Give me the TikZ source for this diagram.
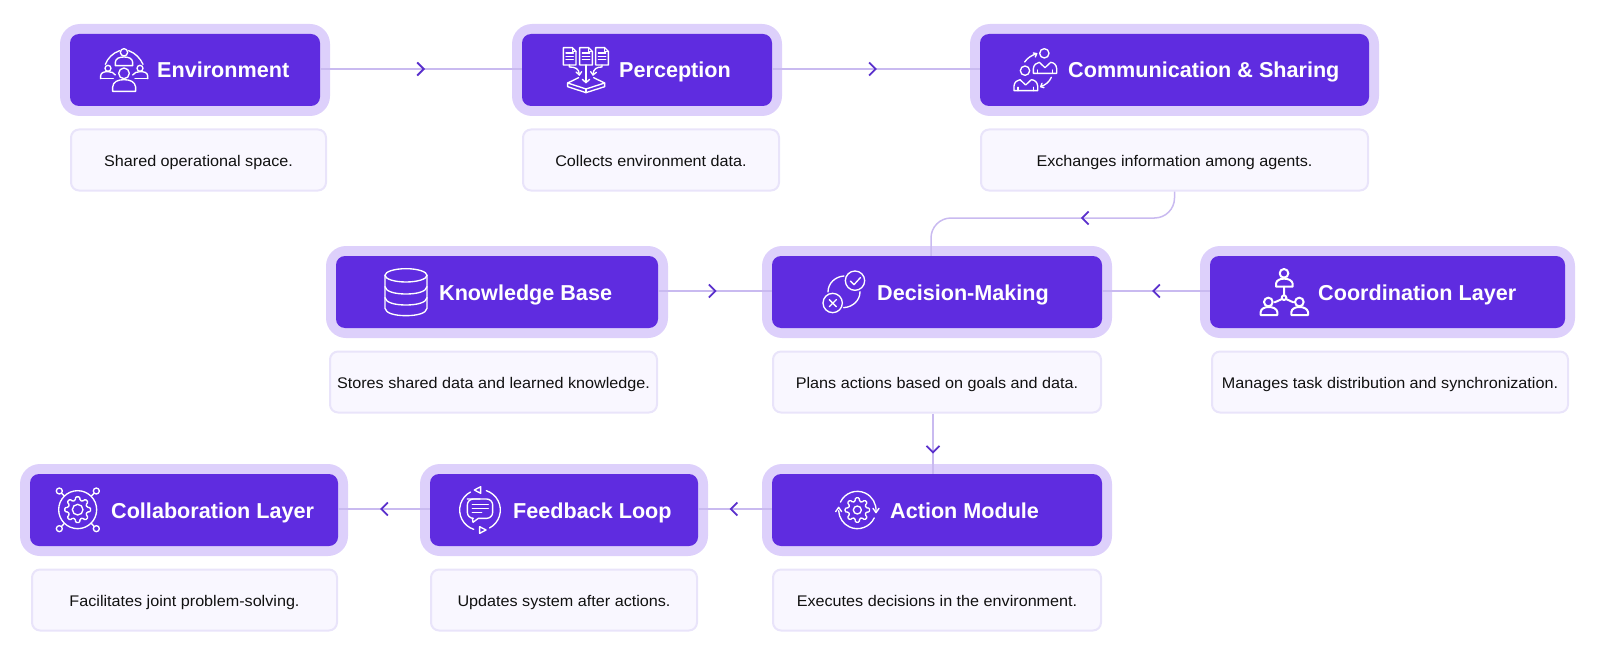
\documentclass[tikz,border=0pt]{standalone}
\usepackage{fontspec}
\setmainfont[FakeStretch=1.05]{Liberation Sans}
\newfontfamily\titlefont{Liberation Sans}
\usetikzlibrary{arrows.meta,decorations.markings}
\definecolor{ringc}{HTML}{DDD0FB}
\definecolor{innerc}{HTML}{5F2CE0}
\definecolor{descf}{HTML}{F9F7FF}
\definecolor{descb}{HTML}{E9E4FA}
\definecolor{linec}{HTML}{C9BAF0}
\definecolor{chevc}{HTML}{5A30CC}
\definecolor{inkc}{HTML}{111111}
\tikzset{
  ringbox/.style={fill=ringc,rounded corners=20pt,inner sep=0pt,minimum height=92pt},
  innerbox/.style={fill=innerc,rounded corners=9pt,inner sep=0pt,minimum height=72pt},
  descbox/.style={fill=descf,draw=descb,line width=2pt,rounded corners=8pt,inner sep=0pt,minimum height=61pt,
    text=inkc,text height=13pt,text depth=0pt,font=\fontsize{15.4}{18}\selectfont},
  titletext/.style={anchor=base west,text=white,inner sep=0pt,font=\titlefont\fontsize{21.6}{26}\selectfont\bfseries},
  flowline/.style={draw=linec,line width=1.5pt,postaction={decorate},
    decoration={markings,mark=at position #1 with {\arrow[xshift=4pt]{Straight Barb[color=chevc,line width=1.8pt,length=6.5pt,width=13pt]}}}},
  iconline/.style={draw=white,line width=1.35pt,line cap=round,line join=round,fill=none},
  iconthick/.style={draw=white,line width=2pt,line cap=round,line join=round,fill=none},
}
\newcommand{\stagebox}[4]{%
  \node[ringbox,minimum width={(#3-#2+20)*1pt}] (#1ring) at ({(#2+#3)/2},#4) {};
  \node[innerbox,minimum width={(#3-#2)*1pt}] (#1) at ({(#2+#3)/2},#4) {};}
\newcommand{\descnode}[5]{%
  \node[descbox,minimum width={(#3-#2-2)*1pt}] (#1) at ({(#2+#3)/2},#4) {#5};}
\newcommand{\geararc}[5]{({#1+#3*cos(#4)},{#2+#3*sin(#4)}) arc[start angle=#4,end angle=#5,radius=#3]}
\newcommand{\gearpath}[5]{% cx cy router rinner start
  \draw[iconline,rounded corners=1pt] ({#1+#4*cos(#5-14)},{#2+#4*sin(#5-14)})
    \foreach \ga in {0,45,...,315}{
      -- ({#1+#4*cos(\ga+#5-14)},{#2+#4*sin(\ga+#5-14)})
      -- ({#1+#3*cos(\ga+#5-9)},{#2+#3*sin(\ga+#5-9)})
      -- ({#1+#3*cos(\ga+#5+9)},{#2+#3*sin(\ga+#5+9)})
      -- ({#1+#4*cos(\ga+#5+14)},{#2+#4*sin(\ga+#5+14)})
    } -- cycle;}
\begin{document}
\begin{tikzpicture}[x=1pt,y=-1pt]
\useasboundingbox (0,0) rectangle (1600,666);
% stages
\stagebox{env}{70}{320}{70}
\stagebox{per}{522}{772}{70}
\stagebox{com}{980}{1369}{70}
\stagebox{kno}{336}{658}{292}
\stagebox{dec}{772}{1102}{292}
\stagebox{coo}{1210}{1565}{292}
\stagebox{col}{30}{338}{510}
\stagebox{fee}{430}{698}{510}
\stagebox{act}{772}{1102}{510}
% descriptions
\descnode{envd}{70}{327}{160}{Shared operational space.}
\descnode{perd}{522}{780}{160}{Collects environment data.}
\descnode{comd}{980}{1369}{160}{Exchanges information among agents.}
\descnode{knod}{329}{658}{382}{Stores shared data and learned knowledge.}
\descnode{decd}{772}{1102}{382}{Plans actions based on goals and data.}
\descnode{cood}{1211}{1569}{382}{Manages task distribution and synchronization.}
\descnode{cold}{31}{338}{600}{Facilitates joint problem-solving.}
\descnode{feed}{430}{698}{600}{Updates system after actions.}
\descnode{actd}{772}{1102}{600}{Executes decisions in the environment.}
% titles
\node[titletext] (envt) at (157,78) {Environment};
\node[titletext] (pert) at (619,78) {Perception};
\node[titletext] (comt) at (1068,78) {Communication \& Sharing};
\node[titletext] (knot) at (439,300) {Knowledge Base};
\node[titletext] (dect) at (877,300) {Decision-Making};
\node[titletext] (coot) at (1318,300) {Coordination Layer};
\node[titletext] (colt) at (111,518) {Collaboration Layer};
\node[titletext] (feet) at (513,518) {Feedback Loop};
\node[titletext] (actt) at (890,518) {Action Module};
% connectors
\coordinate (bend) at (931,218);
\path[flowline=0.5] ([yshift=1pt]env.east) -- ([yshift=1pt]per.west);
\path[flowline=0.485] ([yshift=1pt]per.east) -- ([yshift=1pt]com.west);
\path[flowline=0.48] ([yshift=1pt]kno.east) -- ([yshift=1pt]dec.west);
\path[flowline=0.5] ([yshift=1pt]coo.west) -- ([yshift=1pt]dec.east);
\path[flowline=0.37,rounded corners=20pt] (comd.south) |- (bend) -- ([xshift=-6pt]dec.north);
\path[flowline=0.6] ([xshift=-4pt]decd.south) -- ([xshift=-4pt]act.north);
\path[flowline=0.52] ([yshift=1pt]act.west) -- ([yshift=1pt]fee.east);
\path[flowline=0.5] ([yshift=1pt]fee.west) -- ([yshift=1pt]col.east);
% icon: environment
\begin{scope}[shift={(50,15)},x=0.33333pt,y=-0.33333pt]
 \draw[iconline] (222,112) circle (11);
 \draw[iconline] (196,152) -- (196,142) .. controls (197,130) and (208,126) .. (222,126) .. controls (236,126) and (247,130) .. (248,142) -- (248,152) -- cycle;
 \draw[iconline] (174,160) circle (9);
 \draw[iconline] (152,191) -- (152,182) .. controls (153,172) and (163,170) .. (174,170) .. controls (183,170) and (193,173) .. (196,180);
 \draw[iconline] (152,191) -- (190,191);
 \draw[iconline] (270,160) circle (9);
 \draw[iconline] (293,191) -- (293,182) .. controls (292,172) and (282,170) .. (270,170) .. controls (261,170) and (252,173) .. (248,180);
 \draw[iconline] (293,191) -- (255,191);
 \draw[iconline] (222,175) circle (16);
 \draw[iconline] (188,229) -- (188,216) .. controls (189,200) and (204,194) .. (222,194) .. controls (240,194) and (255,200) .. (257,216) -- (257,229) -- cycle;
 \draw[iconline] (166,148) .. controls (173,130) and (188,114) .. (209,107);
 \draw[iconline] (236,107) .. controls (256,114) and (271,130) .. (279,148);
\end{scope}
% icon: perception
\begin{scope}[shift={(500,15)},x=0.33333pt,y=-0.33333pt]
 \foreach \dx in {190,239,287}{
  \draw[iconline] (\dx,98) -- (\dx+27,98) -- (\dx+38,109) -- (\dx+38,150) -- (\dx,150) -- cycle;
  \draw[iconline] (\dx+27,98) -- (\dx+27,109) -- (\dx+38,109);
  \draw[iconline] (\dx+8,114) -- (\dx+30,114) (\dx+8,124) -- (\dx+30,124) (\dx+8,134) -- (\dx+30,134);
 }
 \draw[iconline] (258,150) -- (258,203);
 \draw[iconline] (247,193) -- (258,203) -- (269,193);
 \draw[iconline] (208,150) -- (208,156) .. controls (225,156) and (238,160) .. (238,180);
 \draw[iconline] (228,171) -- (238,180) -- (245,170);
 \draw[iconline] (306,150) -- (306,156) .. controls (292,156) and (279,160) .. (279,180);
 \draw[iconline] (272,170) -- (279,180) -- (289,172);
 \draw[iconline] (236,188) -- (203,204) -- (258,222) -- (314,204) -- (281,188);
 \draw[iconline] (203,204) -- (203,215) -- (258,233) -- (314,215) -- (314,204);
 \draw[iconline] (258,222) -- (258,233);
\end{scope}
% icon: communication
\begin{scope}[shift={(940,20)},x=0.33333pt,y=-0.33333pt]
 \draw[iconline] (313,100) circle (14);
 \draw[iconline] (280,160) -- (280,146) .. controls (281,134) and (290,128) .. (298,127) -- (315,143) -- (332,127) .. controls (342,128) and (349,134) .. (350,146) -- (350,160) -- cycle;
 \draw[iconline] (255,152) circle (14);
 \draw[iconline] (222,212) -- (222,198) .. controls (223,186) and (232,180) .. (240,179) -- (257,195) -- (274,179) .. controls (284,180) and (292,186) .. (293,198) -- (293,212) -- cycle;
 \draw[iconline] (234,212) -- (234,202) (281,212) -- (281,202);
 \draw[iconline] (292,160) -- (292,150) (338,160) -- (338,150);
 \draw[iconline] (254,126) .. controls (262,114) and (274,106) .. (290,101);
 \draw[iconline] (280,99) -- (290,101) -- (286,111);
 \draw[iconline] (334,172) .. controls (328,186) and (316,195) .. (302,200);
 \draw[iconline] (306,190) -- (302,200) -- (312,203);
\end{scope}
% icon: decision
\begin{scope}[shift={(740,180)},x=0.33333pt,y=-0.33333pt]
 \draw[iconline] (345,302) circle (29);
 \draw[iconline] (331,303) -- (342,314) -- (361,293);
 \draw[iconline] (278,369) circle (29);
 \draw[iconline] (268,359) -- (289,380) (268,380) -- (289,359);
 \draw[iconline] (264,336) .. controls (264,310) and (285,290) .. (312,288);
 \draw[iconline] (360,335) .. controls (360,362) and (338,381) .. (311,383);
\end{scope}
% icon: coordination
\begin{scope}[shift={(1170,235)},x=0.33333pt,y=-0.33333pt]
 \draw[iconthick] (342,115) circle (13);
 \draw[iconthick] (318,155) -- (318,146) .. controls (319,136) and (330,131) .. (342,131) .. controls (355,131) and (366,136) .. (368,146) -- (368,155) -- cycle;
 \draw[iconthick] (295,201) circle (13);
 \draw[iconthick] (272,240) -- (272,231) .. controls (273,221) and (284,216) .. (296,216) .. controls (309,216) and (320,221) .. (322,231) -- (322,240) -- cycle;
 \draw[iconthick] (388,201) circle (13);
 \draw[iconthick] (364,240) -- (364,231) .. controls (365,221) and (376,216) .. (388,216) .. controls (401,216) and (412,221) .. (414,231) -- (414,240) -- cycle;
 \draw[iconthick] (342,188) circle (7);
 \draw[iconthick] (342,155) -- (342,181) (336,192) -- (314,202) (348,192) -- (370,202);
\end{scope}
% icon: knowledge
\begin{scope}[shift={(315,235)},x=0.33333pt,y=-0.33333pt]
 \draw[iconline] (273,121) ellipse [x radius=63,y radius=20];
 \draw[iconline] (210,121) -- (210,220) .. controls (212,235) and (240,242) .. (273,242) .. controls (306,242) and (334,235) .. (336,220) -- (336,121);
 \draw[iconline] (210,155) .. controls (212,170) and (240,177) .. (273,177) .. controls (306,177) and (334,170) .. (336,155);
 \draw[iconline] (210,188) .. controls (212,203) and (240,210) .. (273,210) .. controls (306,210) and (334,203) .. (336,188);
\end{scope}
% icon: collaboration
\begin{scope}[shift={(15,450)},x=0.33333pt,y=-0.33333pt]
 \draw[iconline] (188,179) circle (57);
 \draw[iconline] (188,179) circle (16);
 \gearpath{188}{179}{39}{29}{0}
 \draw[iconline] (133,123) circle (9) (244,123) circle (9) (133,236) circle (9) (244,236) circle (9);
 \draw[iconline] (140,130) -- (148,138) (237,130) -- (229,138) (140,229) -- (148,220) (237,229) -- (229,220);
\end{scope}
% icon: feedback
\begin{scope}[shift={(410,450)},x=0.33333pt,y=-0.33333pt]
 \draw[iconline] \geararc{210}{180}{61}{-72}{62};
 \draw[iconline] \geararc{210}{180}{61}{108}{242};
 \draw[iconline] (193,120) -- (212,110) -- (212,130) -- cycle;
 \draw[iconline] (228,240) -- (209,230) -- (209,250) -- cycle;
 \draw[iconline,rounded corners=6pt] (172,147) -- (248,147) -- (248,205) -- (205,205);
 \draw[iconline] (205,205) -- (189,217) -- (187,205);
 \draw[iconline,rounded corners=6pt] (187,205) -- (172,205) -- (172,147) -- (210,147);
 \draw[iconline] (187,163) -- (235,163) (187,175) -- (235,175) (187,187) -- (215,187);
\end{scope}
% icon: action
\begin{scope}[shift={(745,400)},x=0.33333pt,y=-0.33333pt]
 \gearpath{337}{330}{37}{27}{0}
 \draw[iconline] (337,330) circle (12);
 \draw[iconline] \geararc{337}{330}{56}{-155}{5};
 \draw[iconline] (384,325) -- (393,338) -- (402,325);
 \draw[iconline] \geararc{337}{330}{56}{25}{178};
 \draw[iconline] (272,335) -- (281,322) -- (290,335);
\end{scope}
\end{tikzpicture}
\end{document}
